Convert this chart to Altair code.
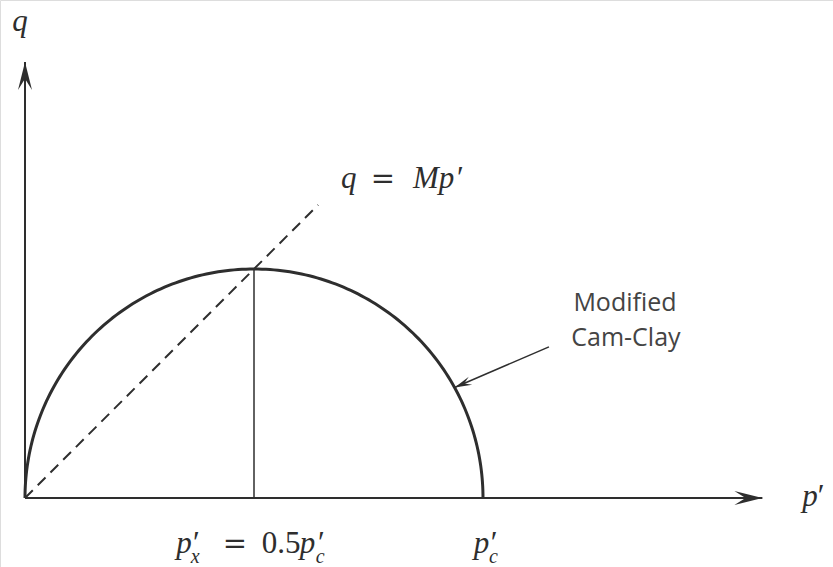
import math
import altair as alt
import pandas as pd

# Model parameters (normalised so that p'_c = 1)
M = 1.0          # slope of the critical state line q = M p'
PC = 1.0         # preconsolidation pressure p'_c

# Axis extents (data units)
X_AXIS_END = 1.61
Y_AXIS_END = 0.952

# Critical state line is drawn up to this p'
CSL_END = 0.64

# Leader arrow for the "Modified Cam-Clay" note
LEADER_START = (1.144, 0.330)
LEADER_TIP_P = 0.938

# Canvas / scale set-up: equal scaling on both axes
W, H = 833, 567
ORIGIN_PX = (25, 498)
PX_PER_UNIT = 458.0
x_domain = [-ORIGIN_PX[0] / PX_PER_UNIT, (W - ORIGIN_PX[0]) / PX_PER_UNIT]
y_domain = [(ORIGIN_PX[1] - H) / PX_PER_UNIT, ORIGIN_PX[1] / PX_PER_UNIT]

xs = alt.Scale(domain=x_domain, nice=False, zero=False)
ys = alt.Scale(domain=y_domain, nice=False, zero=False)
X = lambda f="p": alt.X(f"{f}:Q", scale=xs, axis=None)
Y = lambda f="q": alt.Y(f"{f}:Q", scale=ys, axis=None)

INK = "#2e2e2e"

# Yield surface of Modified Cam-Clay: q^2 + M^2 p'(p' - p'_c) = 0
theta = [math.pi * i / 180 for i in range(181)]
ellipse = pd.DataFrame({
    "p": [PC / 2 * (1 - math.cos(t)) for t in theta],
    "q": [M * PC / 2 * math.sin(t) for t in theta],
    "i": list(range(len(theta))),
})

segments = pd.DataFrame({
    "p": [0.0, 0.0],
    "q": [0.0, 0.0],
    "p2": [X_AXIS_END, 0.0],
    "q2": [0.0, Y_AXIS_END],
})

axes_lines = alt.Chart(segments).mark_rule(color=INK, strokeWidth=2).encode(
    x=X(), y=Y(), x2="p2:Q", y2="q2:Q"
)

csl = alt.Chart(pd.DataFrame({"p": [0.0], "q": [0.0], "p2": [CSL_END], "q2": [M * CSL_END]})).mark_rule(
    color=INK, strokeWidth=2, strokeDash=[11, 7]
).encode(x=X(), y=Y(), x2="p2:Q", y2="q2:Q")

apex = alt.Chart(pd.DataFrame({"p": [PC / 2], "q": [0.0], "q2": [M * PC / 2]})).mark_rule(
    color=INK, strokeWidth=1.5
).encode(x=X(), y=Y(), y2="q2:Q")

curve = alt.Chart(ellipse).mark_line(color=INK, strokeWidth=3).encode(
    x=X(), y=Y(), order="i:Q"
)

tip_q = M * math.sqrt(LEADER_TIP_P * (PC - LEADER_TIP_P))
leader = alt.Chart(pd.DataFrame({
    "p": [LEADER_START[0]], "q": [LEADER_START[1]], "p2": [LEADER_TIP_P], "q2": [tip_q]
})).mark_rule(color=INK, strokeWidth=1.5).encode(x=X(), y=Y(), x2="p2:Q", y2="q2:Q")

# Arrow heads (tip of the path sits on the data point)
ARROW = "M0,0 L-2,-0.5 L-1.2,0 L-2,0.5 Z"
leader_angle = math.degrees(math.atan2(-(tip_q - LEADER_START[1]), LEADER_TIP_P - LEADER_START[0])) % 360
heads = pd.DataFrame({
    "p": [X_AXIS_END, 0.0, LEADER_TIP_P],
    "q": [0.0, Y_AXIS_END, tip_q],
    "angle": [0.0, 270.0, leader_angle],
    "size": [784, 784, 300],
})
arrowheads = alt.Chart(heads).mark_point(
    shape=ARROW, filled=True, color=INK, opacity=1, strokeWidth=0
).encode(
    x=X(), y=Y(),
    angle=alt.Angle("angle:Q", scale=None),
    size=alt.Size("size:Q", scale=None),
)

# Mathematical labels, assembled from pieces
SERIF = "Liberation Serif"
italic_labels = pd.DataFrame({
    "t": ["q", "q", "Mp", "p", "p", "p", "p"],
    "p": [-0.028, 0.690, 0.847, 0.330, 0.600, 0.980, 1.697],
    "q": [1.020, 0.677, 0.677, -0.120, -0.120, -0.120, -0.017],
})
upright_labels = pd.DataFrame({
    "t": ["′", "′", "0.5", "′", "′", "′"],
    "p": [0.943, 0.367, 0.517, 0.640, 1.017, 1.731],
    "q": [0.677, -0.120, -0.120, -0.120, -0.120, -0.017],
})
equals_signs = pd.DataFrame({
    "t": ["=", "="],
    "p": [0.755, 0.432],
    "q": [0.677, -0.120],
})
subscripts = pd.DataFrame({
    "t": ["x", "c", "c"],
    "p": [0.362, 0.635, 1.013],
    "q": [-0.142, -0.142, -0.142],
})

def text_layer(df, size, style="normal", font=SERIF, color=INK, align="left"):
    return alt.Chart(df).mark_text(
        font=font, fontSize=size, fontStyle=style, color=color,
        align=align, baseline="alphabetic"
    ).encode(x=X(), y=Y(), text="t:N")

t_italic = text_layer(italic_labels, 31, "italic")
t_upright = text_layer(upright_labels, 31)
t_equals = text_layer(equals_signs, 29, font="DejaVu Serif")
t_sub = text_layer(subscripts, 20, "italic")

note = pd.DataFrame({
    "t": ["Modified", "Cam-Clay"],
    "p": [1.310, 1.312],
    "q": [0.409, 0.332],
})
t_note = text_layer(note, 25, font="Open Sans", color="#444444", align="center")

chart = alt.layer(
    axes_lines, csl, apex, curve, leader, arrowheads,
    t_italic, t_upright, t_equals, t_sub, t_note,
).properties(
    width=W, height=H,
    autosize=alt.AutoSizeParams(type="none"),
    padding=0,
).configure_view(stroke=None).configure(background="white")

chart.save("out.html", embed_options={"renderer": "svg", "actions": False})
